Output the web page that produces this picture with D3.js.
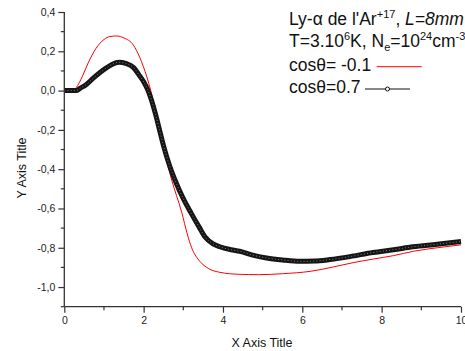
<!DOCTYPE html>
<html>
<head>
<meta charset="utf-8">
<script src="https://cdn.jsdelivr.net/npm/d3@7"></script>
<style>
  html, body { margin: 0; padding: 0; background: #fff; }
  svg { display: block; font-family: Arial, "Liberation Sans", sans-serif; }
</style>
</head>
<body>
<svg id="chart" width="465" height="351"></svg>
<script>
// Ly-alpha profile, two viewing angles
const redX   = [0, 0.2, 0.3, 0.45, 0.6, 0.8, 1.0, 1.15, 1.32, 1.5, 1.74, 1.9, 2.08, 2.28, 2.5, 2.7, 2.96, 3.1, 3.21, 3.42, 3.63, 3.92, 4.4, 4.9, 5.5, 6.2, 6.8, 7.3, 7.8, 8.3, 8.8, 9.4, 10];
const redY   = [0, 0.0, 0.015, 0.07, 0.14, 0.215, 0.26, 0.275, 0.278, 0.268, 0.232, 0.17, 0.07, -0.08, -0.29, -0.45, -0.62, -0.73, -0.80, -0.87, -0.905, -0.925, -0.935, -0.937, -0.932, -0.92, -0.897, -0.875, -0.857, -0.84, -0.818, -0.80, -0.785];

const blackX = [0, 0.3, 0.4, 0.55, 0.73, 0.9, 1.07, 1.2, 1.38, 1.55, 1.74, 1.9, 2.0, 2.1, 2.2, 2.3, 2.4, 2.5, 2.65, 2.8, 3.0, 3.2, 3.4, 3.55, 3.75, 3.92, 4.2, 4.42, 4.8, 5.1, 5.5, 5.94, 6.3, 6.7, 7.2, 7.78, 8.3, 8.79, 9.4, 10];
const blackY = [0, 0.0, 0.012, 0.03, 0.063, 0.092, 0.117, 0.133, 0.144, 0.138, 0.118, 0.075, 0.045, 0.005, -0.05, -0.12, -0.2, -0.28, -0.38, -0.46, -0.55, -0.625, -0.695, -0.745, -0.78, -0.795, -0.81, -0.818, -0.84, -0.852, -0.862, -0.869, -0.868, -0.86, -0.845, -0.824, -0.81, -0.795, -0.782, -0.768];

const xTicks = [0, 2, 4, 6, 8, 10];
const yTicks = [-1.0, -0.8, -0.6, -0.4, -0.2, 0.0, 0.2, 0.4];

const svg = d3.select('#chart');
const x = d3.scaleLinear().domain([0, 10]).range([64.3, 461]);
const y = d3.scaleLinear().domain([-1.1, 0.4]).range([306.7, 12]);

const axisColour = '#333';
const fmt = d => (d < 0 ? '-' : '') + Math.abs(d).toFixed(1).replace('.', ',');

// ---------- curves ----------
const line = d3.line().x(d => x(d[0])).y(d => y(d[1])).curve(d3.curveMonotoneX);
const red   = redX.map((v, i) => [v, redY[i]]);
const black = blackX.map((v, i) => [v, blackY[i]]);

svg.append('path').attr('d', line(red))
   .attr('fill', 'none').attr('stroke', '#ff0000').attr('stroke-width', 1);

// dense open-circle symbols look like a thick dark band
svg.append('path').attr('d', line(black))
   .attr('fill', 'none').attr('stroke', '#151515').attr('stroke-width', 5)
   .attr('stroke-linejoin', 'round');
svg.append('path').attr('d', line(black))
   .attr('fill', 'none').attr('stroke', '#8a8a8a').attr('stroke-width', 0.9)
   .attr('stroke-dasharray', '1 2.2');

// ---------- axes ----------
const yAxis = svg.append('g').attr('transform', `translate(${x(0)},0)`)
  .call(d3.axisLeft(y).tickValues(yTicks).tickFormat(fmt).tickSize(6).tickPadding(3));
const xAxis = svg.append('g').attr('transform', `translate(0,${y(-1.1)})`)
  .call(d3.axisBottom(x).tickValues(xTicks).tickFormat(d3.format('d')).tickSize(6).tickPadding(4));

[xAxis, yAxis].forEach(a => {
  a.select('.domain').attr('stroke', axisColour).attr('stroke-width', 1.3);
  a.selectAll('.tick line').attr('stroke', axisColour).attr('stroke-width', 1.2);
  a.selectAll('.tick text').attr('fill', '#222').attr('font-size', 10.5)
   .attr('font-family', 'Arial, "Liberation Sans", sans-serif');
});
yAxis.select('.domain').attr('d', `M0,${y(-1.1)}V${y(0.4)}`);
xAxis.select('.domain').attr('d', `M${x(0)},0H${x(10)}`);

// minor ticks
svg.append('g').selectAll('line').data([-1.1, -0.9, -0.7, -0.5, -0.3, -0.1, 0.1, 0.3])
  .join('line').attr('x1', x(0) - 3.5).attr('x2', x(0)).attr('y1', d => y(d)).attr('y2', d => y(d))
  .attr('stroke', axisColour).attr('stroke-width', 1.2);
svg.append('g').selectAll('line').data([1, 3, 5, 7, 9])
  .join('line').attr('x1', d => x(d)).attr('x2', d => x(d)).attr('y1', y(-1.1)).attr('y2', y(-1.1) + 3.5)
  .attr('stroke', axisColour).attr('stroke-width', 1.2);

// ---------- axis titles ----------
svg.append('text').text('X Axis Title')
   .attr('x', 262).attr('y', 347).attr('text-anchor', 'middle')
   .attr('font-size', 12.5).attr('fill', '#111');
svg.append('text').text('Y Axis Title')
   .attr('transform', 'translate(26,168) rotate(-90)').attr('text-anchor', 'middle')
   .attr('font-size', 12.5).attr('fill', '#111');

// ---------- legend ----------
const lx = 289, fs = 17.5, sfs = 11;
const t1 = svg.append('text').attr('x', lx).attr('y', 25).attr('font-size', fs).attr('fill', '#111');
t1.append('tspan').text("Ly-\u03b1 de l'Ar");
t1.append('tspan').text('+17').attr('font-size', sfs).attr('dy', -7);
t1.append('tspan').text(', ').attr('dy', 7);
t1.append('tspan').text('L=8mm').attr('font-style', 'italic');

const t2 = svg.append('text').attr('x', lx).attr('y', 47).attr('font-size', fs).attr('fill', '#111');
t2.append('tspan').text('T=3.10');
t2.append('tspan').text('6').attr('font-size', sfs).attr('dy', -7);
t2.append('tspan').text('K, N').attr('dy', 7);
t2.append('tspan').text('e').attr('font-size', sfs).attr('dy', 4);
t2.append('tspan').text('=10').attr('dy', -4);
t2.append('tspan').text('24').attr('font-size', sfs).attr('dy', -7);
t2.append('tspan').text('cm').attr('dy', 7);
t2.append('tspan').text('-3').attr('font-size', sfs).attr('dy', -7);

svg.append('text').text('cos\u03b8= -0.1').attr('x', lx).attr('y', 71)
   .attr('font-size', fs).attr('fill', '#111');
svg.append('line').attr('x1', 376.7).attr('x2', 421.7).attr('y1', 66.7).attr('y2', 66.7)
   .attr('stroke', '#ff0000').attr('stroke-width', 1);

svg.append('text').text('cos\u03b8=0.7').attr('x', lx).attr('y', 93)
   .attr('font-size', fs).attr('fill', '#111');
svg.append('line').attr('x1', 365).attr('x2', 410).attr('y1', 89).attr('y2', 89)
   .attr('stroke', '#111').attr('stroke-width', 1);
svg.append('circle').attr('cx', 387.5).attr('cy', 89).attr('r', 2)
   .attr('fill', '#fff').attr('stroke', '#111').attr('stroke-width', 1);
</script>
</body>
</html>
